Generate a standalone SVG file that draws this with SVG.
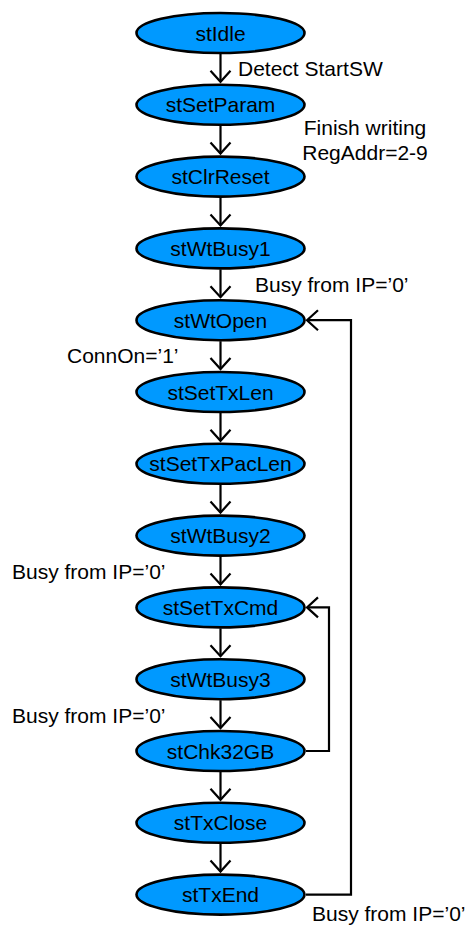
<svg xmlns="http://www.w3.org/2000/svg" width="466" height="925" viewBox="0 0 466 925">
<style>
.n ellipse{fill:#0099ff;stroke:#000;stroke-width:2.6}
.n text{font-family:"Liberation Sans",Arial,sans-serif;font-size:21px;text-anchor:middle;fill:#000}
.lbl{font-family:"Liberation Sans",Arial,sans-serif;font-size:21px;fill:#000}
.c path{fill:none;stroke:#000;stroke-width:2.2;marker-end:url(#a)}
</style>
<defs>
<marker id="a" markerUnits="userSpaceOnUse" markerWidth="14" markerHeight="24" viewBox="-1 -1 14 24" refX="11" refY="10" orient="auto" overflow="visible">
<path d="M0,0 L11,10 L0,20" fill="none" stroke="#000" stroke-width="2.2"/>
</marker>
</defs>
<g class="c" id="connectors">
<path d="M220.5,54 V81.8"/>
<path d="M220.5,125.8 V153.6"/>
<path d="M220.5,197.6 V225.4"/>
<path d="M220.5,269.4 V297.2"/>
<path d="M220.5,341.2 V369"/>
<path d="M220.5,413 V440.8"/>
<path d="M220.5,484.8 V512.6"/>
<path d="M220.5,556.6 V584.4"/>
<path d="M220.5,628.4 V656.2"/>
<path d="M220.5,700.2 V728"/>
<path d="M220.5,772 V799.8"/>
<path d="M220.5,843.8 V871.6"/>
<path d="M306,894.6 H351 V320.2 H307"/>
<path d="M306,751 H329 V607.4 H307"/>
</g>
<g class="n" id="stIdle"><ellipse cx="220.5" cy="33" rx="84" ry="20"/><text x="220.5" y="40.5">stIdle</text></g>
<g class="n" id="stSetParam"><ellipse cx="220.5" cy="104.8" rx="84" ry="20"/><text x="220.5" y="112.3">stSetParam</text></g>
<g class="n" id="stClrReset"><ellipse cx="220.5" cy="176.6" rx="84" ry="20"/><text x="220.5" y="184.1">stClrReset</text></g>
<g class="n" id="stWtBusy1"><ellipse cx="220.5" cy="248.4" rx="84" ry="20"/><text x="220.5" y="255.9">stWtBusy1</text></g>
<g class="n" id="stWtOpen"><ellipse cx="220.5" cy="320.2" rx="84" ry="20"/><text x="220.5" y="327.7">stWtOpen</text></g>
<g class="n" id="stSetTxLen"><ellipse cx="220.5" cy="392" rx="84" ry="20"/><text x="220.5" y="399.5">stSetTxLen</text></g>
<g class="n" id="stSetTxPacLen"><ellipse cx="220.5" cy="463.8" rx="84" ry="20"/><text x="220.5" y="471.3">stSetTxPacLen</text></g>
<g class="n" id="stWtBusy2"><ellipse cx="220.5" cy="535.6" rx="84" ry="20"/><text x="220.5" y="543.1">stWtBusy2</text></g>
<g class="n" id="stSetTxCmd"><ellipse cx="220.5" cy="607.4" rx="84" ry="20"/><text x="220.5" y="614.9">stSetTxCmd</text></g>
<g class="n" id="stWtBusy3"><ellipse cx="220.5" cy="679.2" rx="84" ry="20"/><text x="220.5" y="686.7">stWtBusy3</text></g>
<g class="n" id="stChk32GB"><ellipse cx="220.5" cy="751" rx="84" ry="20"/><text x="220.5" y="758.5">stChk32GB</text></g>
<g class="n" id="stTxClose"><ellipse cx="220.5" cy="822.8" rx="84" ry="20"/><text x="220.5" y="830.3">stTxClose</text></g>
<g class="n" id="stTxEnd"><ellipse cx="220.5" cy="894.6" rx="84" ry="20"/><text x="220.5" y="902.1">stTxEnd</text></g>
<g id="labels">
<text class="lbl" x="238" y="76">Detect StartSW</text>
<text class="lbl" x="365" y="135" text-anchor="middle">Finish writing</text>
<text class="lbl" x="365" y="160" text-anchor="middle">RegAddr=2-9</text>
<text class="lbl" x="255" y="292">Busy from IP=’0’</text>
<text class="lbl" x="67" y="363">ConnOn=’1’</text>
<text class="lbl" x="12" y="579">Busy from IP=’0’</text>
<text class="lbl" x="12" y="723">Busy from IP=’0’</text>
<text class="lbl" x="312" y="921">Busy from IP=’0’</text>
</g>
</svg>
